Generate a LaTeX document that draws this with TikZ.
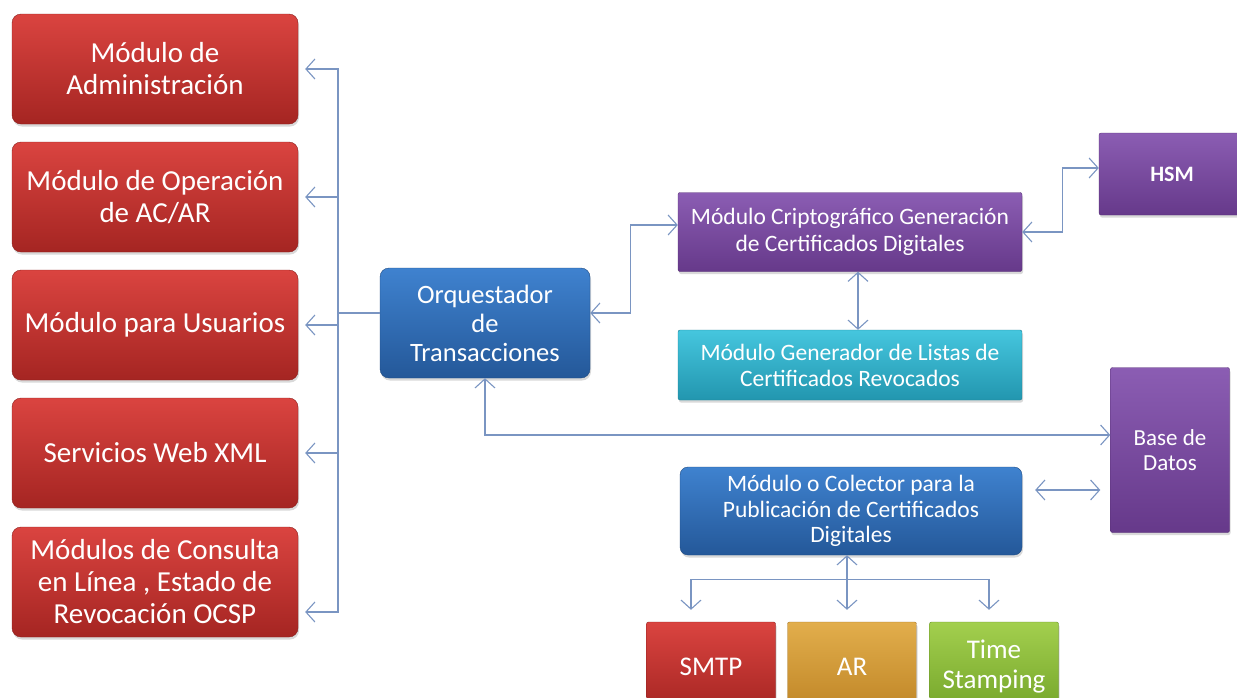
\documentclass[tikz,border=0pt]{standalone}
\usepackage{fontspec}
\setmainfont{Carlito}
\usetikzlibrary{arrows.meta,shadows}

\definecolor{linkcol}{HTML}{7A95C2}
\definecolor{redtop}{HTML}{DA4440}
\definecolor{redbot}{HTML}{A52522}
\definecolor{bluetop}{HTML}{3F82CF}
\definecolor{bluebot}{HTML}{245899}
\definecolor{purtop}{HTML}{8B5DB3}
\definecolor{purbot}{HTML}{66398A}
\definecolor{cyantop}{HTML}{45C6DE}
\definecolor{cyanbot}{HTML}{2296AF}
\definecolor{orgtop}{HTML}{E2AE4C}
\definecolor{orgbot}{HTML}{BF8526}
\definecolor{grntop}{HTML}{A3CF4E}
\definecolor{grnbot}{HTML}{74A52A}

\begin{document}
\begin{tikzpicture}[x=1pt,y=-1pt,
  box/.style 2 args={draw=#2!85!black, top color=#1, bottom color=#2, text=white,
    align=center, inner sep=0pt,
    drop shadow={opacity=0.3,shadow xshift=1pt,shadow yshift=-2.5pt}},
  redbox/.style={box={redtop}{redbot}, rounded corners=9pt, minimum width=286pt,
    minimum height=110pt, font=\fontsize{29}{32}\selectfont},
  bluebox/.style={box={bluetop}{bluebot}, rounded corners=9pt},
  purbox/.style={box={purtop}{purbot}, rounded corners=2pt},
  smallbox/.style={minimum width=129pt, minimum height=90pt, rounded corners=2pt,
    font=\fontsize{27}{30}\selectfont},
  link/.style={draw=linkcol, line width=1.1pt, -{Straight Barb[length=9pt,width=20pt]}},
  both/.style={link, {Straight Barb[length=9pt,width=20pt]}-{Straight Barb[length=9pt,width=20pt]}},
  line/.style={draw=linkcol, line width=1.1pt}]

  \clip (0,0) rectangle (1237,697);

  % Left column of modules
  \node[redbox] (adm) at (155,69) {Módulo de\\Administración};
  \node[redbox] (ope) at (155,197) {Módulo de Operación\\de AC/AR};
  \node[redbox] (usu) at (155,325) {Módulo para Usuarios};
  \node[redbox] (web) at (155,453) {Servicios Web XML};
  \node[redbox] (ocsp) at (155,582) {Módulos de Consulta\\en Línea , Estado de\\Revocación OCSP};

  % The orchestrator
  \node[bluebox, minimum width=210pt, minimum height=110pt,
    font=\fontsize{26.5}{29}\selectfont] (orq) at (485,323) {Orquestador\\de\\Transacciones};

  % Crypto module and its neighbours
  \node[purbox, minimum width=344pt, minimum height=79pt,
    font=\fontsize{23.5}{27}\selectfont] (cri) at (850,232) {Módulo Criptográfico Generación\\de Certificados Digitales};
  \node[purbox, minimum width=146pt, minimum height=82pt,
    font=\fontsize{22}{27}\selectfont\bfseries] (hsm) at (1172,174) {HSM};
  \node[box={cyantop}{cyanbot}, rounded corners=2pt, minimum width=344pt, minimum height=70pt,
    font=\fontsize{23.5}{26}\selectfont] (crl) at (850,365) {Módulo Generador de Listas de\\Certificados Revocados};
  \node[purbox, minimum width=119pt, minimum height=165pt,
    font=\fontsize{23}{25}\selectfont] (bd) at (1170,450) {Base de\\Datos};

  % Publication module and its outputs
  \node[bluebox, rounded corners=8pt, minimum width=342pt, minimum height=88pt,
    font=\fontsize{23.5}{25.5}\selectfont] (col) at (851,511) {Módulo o Colector para la\\Publicación de Certificados\\Digitales};
  \node[box={redtop}{redbot}, smallbox] (smtp) at (711,667) {SMTP};
  \node[box={orgtop}{orgbot}, smallbox] (ar) at (852,667) {AR};
  \node[box={grntop}{grnbot}, smallbox] (ts) at (994,667) {Time\\Stamping};

  % Bus from the orchestrator to the left column
  \coordinate (bus) at (338,313);
  \draw[line] (bus) -- (bus -| orq.west);
  \foreach \m in {adm,ope,usu,web}
    \draw[link, shorten >=7pt] (bus) |- (\m.east);
  \draw[link, shorten >=7pt] (bus) |- ([yshift=-30pt]ocsp.east);

  % Links on the right
  \draw[both] ([yshift=10pt]orq.east) -- ++(40,0) |- ([yshift=7pt]cri.west);
  \draw[both] (cri.east) -- ++(40,0) |- ([yshift=6pt]hsm.west);
  \draw[both] ([xshift=8pt]cri.south) -- ([xshift=8pt]crl.north);
  \draw[both] (orq.south) |- ([yshift=15pt]bd.west);
  \draw[both, shorten <=13pt, shorten >=10pt] ([yshift=21pt]col.east) -- ([yshift=21pt]col.east -| bd.west);

  % Fork below the publication module
  \draw[both, shorten >=12pt] ([xshift=-4pt]col.south) -- ([xshift=-4pt]col.south |- ar.north);
  \path ([xshift=-4pt]col.south) ++(0,24) coordinate (fork);
  \foreach \b/\dx in {smtp/-20,ts/-5}
    \draw[link, shorten >=12pt] (fork) -| ([xshift=\dx pt]\b.north);
\end{tikzpicture}
\end{document}
